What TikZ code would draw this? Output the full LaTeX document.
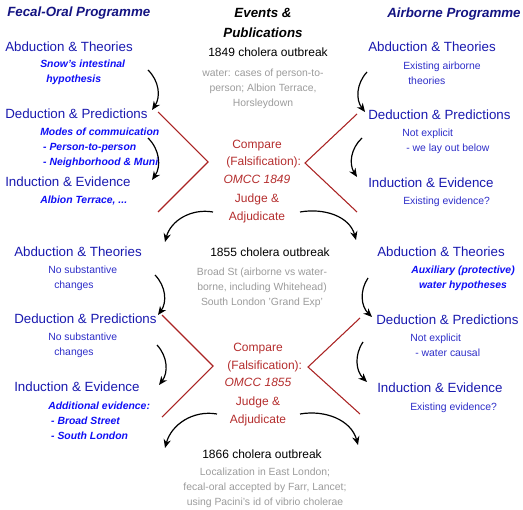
\documentclass[tikz,border=0pt]{standalone}
\usepackage{fontspec}
\setmainfont{Liberation Sans}
\usetikzlibrary{arrows.meta}
\definecolor{headblue}{RGB}{20,20,130}
\definecolor{stageblue}{RGB}{25,25,175}
\definecolor{noteblue}{RGB}{45,45,200}
\definecolor{keyblue}{RGB}{15,15,245}
\definecolor{judgered}{RGB}{180,45,45}
\definecolor{linered}{RGB}{170,35,35}
\definecolor{detailgray}{RGB}{155,155,155}

\begin{document}
\begin{tikzpicture}[x=0.75pt, y=-0.75pt, >={Stealth[length=6.5pt,width=5.5pt]},
				    head/.style={inner sep=0, anchor=west, text=headblue,
				    			 font=\fontsize{10}{13.5}\selectfont\bfseries\itshape},
				    stage/.style={inner sep=0, anchor=west, text=stageblue,
				    			  font=\fontsize{10}{12}\selectfont},
				    note/.style={inner sep=0, anchor=west, align=left, text=noteblue,
				    			 font=\fontsize{7.8}{11.25}\selectfont},
				    keynote/.style={note, text=keyblue,
				    				font=\fontsize{7.8}{11.25}\selectfont\bfseries\itshape},
				    event/.style={inner sep=0, text=black, font=\fontsize{9}{11}\selectfont},
				    detail/.style={inner sep=0, align=center, text=detailgray,
				    			   font=\fontsize{7.8}{11.25}\selectfont},
				    judge/.style={inner sep=0, align=center, text=judgered,
				    			  font=\fontsize{9}{13.1}\selectfont},
				    flow/.style={->, line width=0.9pt},
				    split/.style={draw=linered, line width=0.8pt}]
	\useasboundingbox (0, 0) rectangle (523, 509);

	\node[head] (headL) at (7, 13) {Fecal-Oral Programme};
	\node[head, text=black, anchor=center, align=center] (headM) at (263, 23) {Events \&\\[1.5pt]Publications};
	\node[head] (headR) at (387, 14) {Airborne Programme};

	\node[stage] (abdL1) at (5, 47) {Abduction \& Theories};
	\node[keynote] (thL1) at (40, 72.5) {Snow's intestinal\\\hspace*{4.5pt}hypothesis};
	\node[stage] (dedL1) at (5, 114) {Deduction \& Predictions};
	\node[keynote] (prL1) at (40, 148) {Modes of commuication\\\hspace*{2.2pt}- Person-to-person\\\hspace*{2.2pt}- Neighborhood \& Muni};
	\node[stage] (indL1) at (5, 182) {Induction \& Evidence};
	\node[keynote] (evL1) at (40, 201) {Albion Terrace, ...};

	\node[event] (ev1849) at (268, 52) {1849 cholera outbreak};
	\node[detail] (det1849) at (263, 89) {water: cases of person-to-\\person; Albion Terrace,\\Horsleydown};
	\node[judge] (cmp1849) at (257, 161.5) {Compare\\\hspace*{10pt}(Falsification):\\\textit{OMCC 1849}};
	\node[judge] (jdg1849) at (257, 208.5) {Judge \&\\Adjudicate};

	\node[stage] (abdR1) at (368, 47) {Abduction \& Theories};
	\node[note] (thR1) at (403, 73.5) {Existing airborne\\\hspace*{3.8pt}theories};
	\node[stage] (dedR1) at (368, 115) {Deduction \& Predictions};
	\node[note] (prR1) at (402, 141.5) {Not explicit\\\hspace*{3pt}- we lay out below};
	\node[stage] (indR1) at (368, 183) {Induction \& Evidence};
	\node[note] (evR1) at (403, 202) {Existing evidence?};

	\node[stage] (abdL2) at (14, 252) {Abduction \& Theories};
	\node[note] (thL2) at (48, 278.5) {No substantive\\\hspace*{4.5pt}changes};
	\node[stage] (dedL2) at (14, 319) {Deduction \& Predictions};
	\node[note] (prL2) at (48, 345.5) {No substantive\\\hspace*{4.5pt}changes};
	\node[stage] (indL2) at (14, 387) {Induction \& Evidence};
	\node[keynote] (evL2) at (48, 421) {Additional evidence:\\\hspace*{2.2pt}- Broad Street\\\hspace*{2.2pt}- South London};

	\node[event] (ev1855) at (270, 252) {1855 cholera outbreak};
	\node[detail] (det1855) at (262, 288) {Broad St (airborne vs water-\\borne, including Whitehead)\\South London 'Grand Exp'};
	\node[judge] (cmp1855) at (258, 365) {Compare\\\hspace*{10pt}(Falsification):\\\textit{OMCC 1855}};
	\node[judge] (jdg1855) at (258, 411.5) {Judge \&\\Adjudicate};

	\node[stage] (abdR2) at (377, 252) {Abduction \& Theories};
	\node[keynote, anchor=center, align=center] (thR2) at (463, 278.5) {Auxiliary (protective)\\water hypotheses};
	\node[stage] (dedR2) at (376, 320) {Deduction \& Predictions};
	\node[note] (prR2) at (410, 345.5) {Not explicit\\\hspace*{3.8pt}- water causal};
	\node[stage] (indR2) at (377, 388) {Induction \& Evidence};
	\node[note] (evR2) at (410, 408) {Existing evidence?};

	\node[event] (ev1866) at (262, 454) {1866 cholera outbreak};
	\node[detail] (det1866) at (265, 488) {Localization in East London;\\fecal-oral accepted by Farr, Lancet;\\using Pacini's id of vibrio cholerae};

	\coordinate (fL1) at (148, 70);   \coordinate (tL1) at (152, 110);
	\coordinate (fL2) at (148, 138);  \coordinate (tL2) at (152, 180);
	\coordinate (fL3) at (155, 275);  \coordinate (tL3) at (158, 315);
	\coordinate (fL4) at (157, 345);  \coordinate (tL4) at (159, 385);
	\coordinate (fR1) at (367, 72);   \coordinate (tR1) at (365, 112);
	\coordinate (fR2) at (362, 138);  \coordinate (tR2) at (357, 177);
	\coordinate (fR3) at (368, 278);  \coordinate (tR3) at (372, 317);
	\coordinate (fR4) at (363, 342);  \coordinate (tR4) at (367, 382);
	\coordinate (jL1) at (213, 212);  \coordinate (nL1) at (165, 242);
	\coordinate (jR1) at (300, 212);  \coordinate (nR1) at (356, 240);
	\coordinate (jL2) at (217, 414);  \coordinate (nL2) at (165, 448);
	\coordinate (jR2) at (300, 414);  \coordinate (nR2) at (358, 445);

	\coordinate (r1a) at (158, 112);  \coordinate (r1b) at (208, 162);  \coordinate (r1c) at (158, 212);
	\coordinate (r2a) at (357, 114);  \coordinate (r2b) at (305, 163);  \coordinate (r2c) at (357, 212);
	\coordinate (r3a) at (162, 315);  \coordinate (r3b) at (213, 366);  \coordinate (r3c) at (162, 417);
	\coordinate (r4a) at (360, 318);  \coordinate (r4b) at (308, 367);  \coordinate (r4c) at (360, 414);

	\draw[split] (r1a) -- (r1b) -- (r1c);
	\draw[split] (r2a) -- (r2b) -- (r2c);
	\draw[split] (r3a) -- (r3b) -- (r3c);
	\draw[split] (r4a) -- (r4b) -- (r4c);

	\path[flow] 	(fL1)  edge[bend left=40]   (tL1);
	\path[flow] 	(fL2)  edge[bend left=40]   (tL2);
	\path[flow] 	(fL3)  edge[bend left=40]   (tL3);
	\path[flow] 	(fL4)  edge[bend left=40]   (tL4);
	\path[flow] 	(fR1)  edge[bend right=40]  (tR1);
	\path[flow] 	(fR2)  edge[bend right=40]  (tR2);
	\path[flow] 	(fR3)  edge[bend right=40]  (tR3);
	\path[flow] 	(fR4)  edge[bend right=40]  (tR4);
	\path[flow] 	(jL1)  edge[out=170, in=75]   (nL1);
	\path[flow] 	(jR1)  edge[out=10, in=105]   (nR1);
	\path[flow] 	(jL2)  edge[out=170, in=75]   (nL2);
	\path[flow] 	(jR2)  edge[out=10, in=105]   (nR2);

\end{tikzpicture}
\end{document}
